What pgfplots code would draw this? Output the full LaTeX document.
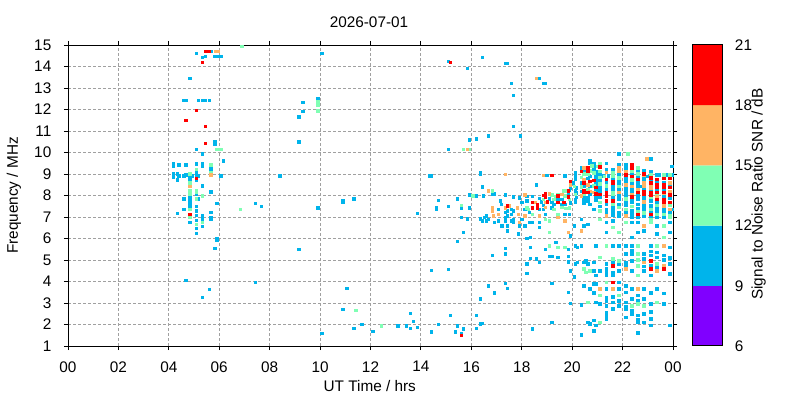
\documentclass[border=0pt]{standalone}
\usepackage{fontspec}
\setmainfont{Liberation Sans}
\usepackage{pgfplots}
\usepackage{pgfplotstable}
\pgfplotsset{compat=1.18}
\definecolor{cpur}{RGB}{128,0,255}
\definecolor{ccyan}{RGB}{0,180,235}
\definecolor{cgreen}{RGB}{128,255,180}
\definecolor{corange}{RGB}{255,180,100}
\definecolor{cred}{RGB}{255,0,0}
\definecolor{cgrid}{RGB}{160,160,160}
% k: 1 = 9-12 dB, 2 = 12-15 dB, 3 = 15-18 dB, 4 = 18-21 dB
\pgfplotstableread{
x y k
6.90 14.95 2
5.44 14.71 4
5.58 14.71 4
5.69 14.71 1
5.85 14.71 3
5.94 14.71 3
5.08 14.61 1
5.32 14.43 1
5.44 14.47 1
5.83 14.47 1
5.91 14.47 1
6.07 14.47 1
5.32 14.20 4
4.84 13.45 1
4.60 12.43 1
4.68 12.43 1
5.16 12.43 1
5.32 12.43 1
5.44 12.43 1
5.60 12.43 1
5.08 11.97 4
4.68 11.51 4
5.44 11.23 4
5.83 10.50 1
5.83 10.41 1
5.08 10.16 1
5.44 10.44 4
5.91 10.16 2
6.07 10.16 2
5.32 9.93 1
6.15 9.61 1
4.17 9.51 1
4.17 9.39 1
4.40 9.42 1
4.68 9.42 1
5.08 9.47 1
5.08 9.23 2
5.32 9.47 1
5.32 9.36 1
5.67 9.42 2
5.67 9.28 1
5.67 9.18 1
4.17 9.00 1
4.17 8.88 1
4.33 9.00 1
4.40 8.91 1
4.60 8.91 1
4.68 8.97 1
4.84 9.00 2
4.84 8.88 1
4.92 8.91 1
5.08 9.05 1
5.08 8.90 1
5.08 8.80 4
5.16 8.91 1
5.67 9.05 2
5.67 8.97 3
6.07 8.91 1
4.33 8.72 1
4.84 8.74 1
4.84 8.59 2
4.84 8.43 3
5.08 8.71 1
5.32 8.45 1
5.67 8.14 1
4.84 8.18 2
4.84 8.09 2
5.08 8.18 2
5.08 8.06 1
5.32 7.98 2
4.60 7.86 1
4.84 7.89 1
5.08 7.86 1
5.16 7.86 1
4.84 8.22 2
4.84 8.06 2
4.84 7.91 1
4.84 7.72 1
4.84 7.52 1
4.84 7.37 2
4.84 7.13 4
4.84 7.01 2
4.84 6.75 1
5.08 8.25 2
5.08 8.09 1
5.08 7.86 2
5.08 7.49 1
5.08 7.29 1
5.08 7.09 1
5.08 6.84 1
5.08 6.67 2
5.08 6.47 1
5.08 6.24 1
5.32 8.00 2
4.60 7.35 1
4.33 7.17 1
5.32 7.06 1
5.32 6.93 1
5.32 6.75 2
5.32 6.56 1
5.67 8.17 1
5.67 7.21 1
5.67 6.98 1
5.67 6.89 1
5.91 7.63 1
5.91 6.01 1
5.91 5.91 1
5.83 5.54 1
6.83 7.35 2
7.42 7.63 1
7.66 7.49 1
4.68 4.06 1
7.42 3.97 1
5.60 3.64 1
5.32 3.27 1
10.07 14.61 1
15.08 14.24 1
15.16 14.20 4
15.84 13.92 1
9.31 12.34 1
9.91 12.53 1
9.91 12.37 2
9.91 12.19 2
9.91 11.94 2
9.31 11.92 1
9.15 11.65 1
9.15 10.49 1
15.92 10.58 1
15.08 10.16 1
15.68 10.16 2
15.84 10.16 3
15.92 10.16 2
8.40 8.91 1
14.33 8.91 1
14.41 8.91 1
11.34 7.86 1
15.44 7.86 1
15.92 8.03 1
16.08 7.98 2
9.91 7.44 1
10.90 7.77 1
10.90 7.71 1
13.85 7.17 1
14.68 7.77 1
14.60 7.44 1
14.60 7.38 1
15.08 7.49 1
15.60 7.54 2
15.60 7.43 1
15.92 7.44 1
15.60 6.98 1
15.84 6.93 1
15.68 6.28 1
15.44 5.87 1
9.15 5.50 1
14.41 4.52 1
15.08 4.57 1
11.06 3.69 1
10.90 2.71 1
11.42 2.67 2
11.66 2.02 1
11.34 1.83 1
10.07 1.60 1
12.10 1.69 1
12.42 1.93 2
13.09 1.93 1
13.41 1.93 1
13.57 2.53 1
13.69 2.16 1
13.57 1.83 1
13.85 1.88 1
14.41 1.65 1
14.68 2.02 1
15.16 2.44 1
15.44 1.93 1
15.36 1.65 1
15.68 1.79 1
15.60 1.60 1
15.60 1.49 4
16.44 14.43 1
17.35 14.15 1
17.43 14.15 1
18.58 13.45 3
18.70 13.45 1
18.86 13.22 1
18.94 13.22 1
17.59 13.22 1
17.67 12.67 1
17.67 11.23 1
16.68 10.77 1
17.95 10.77 1
16.20 10.63 1
21.84 9.93 1
22.20 9.93 2
22.95 9.70 3
23.11 9.70 1
23.95 9.37 1
16.36 9.08 1
16.36 8.99 1
16.44 8.40 1
17.35 8.99 3
18.58 8.49 1
16.68 8.21 3
16.83 8.21 2
16.83 8.08 1
16.91 8.08 1
16.04 8.00 2
16.20 8.00 1
17.35 8.03 1
17.67 7.94 1
17.91 7.89 1
18.11 8.03 3
18.19 7.97 1
18.42 7.97 1
18.70 7.87 1
18.86 8.94 3
18.94 8.94 1
19.02 8.94 1
19.18 8.94 4
19.10 8.08 3
19.18 8.03 2
18.94 8.08 4
18.94 7.94 4
19.42 8.03 2
19.34 7.97 2
19.70 8.91 1
19.66 8.21 2
19.74 8.21 2
19.93 8.66 4
19.93 8.49 3
19.93 8.35 1
19.89 8.25 1
20.13 9.05 1
20.13 8.93 1
20.05 8.59 1
20.09 8.43 2
20.16 8.35 1
20.17 8.12 1
20.17 7.92 1
20.37 9.28 1
20.37 9.13 4
20.45 9.28 3
20.45 9.13 1
20.45 8.74 3
20.45 8.59 4
20.45 8.46 1
20.45 8.25 4
20.45 8.09 2
20.61 9.28 4
20.61 9.13 4
20.69 9.64 1
20.69 8.89 1
20.69 8.66 4
20.69 8.43 1
20.69 8.20 3
20.77 9.39 2
20.85 9.48 1
20.85 9.20 1
20.93 8.97 1
20.93 8.82 1
20.93 8.66 1
20.93 8.25 1
20.93 8.09 4
21.01 9.36 2
21.09 9.47 2
21.09 9.33 4
21.09 9.13 2
21.09 8.55 2
21.09 8.28 1
21.09 8.20 1
21.21 8.93 1
21.28 8.89 2
21.36 9.08 3
21.44 8.93 1
21.36 7.97 4
21.60 8.89 2
21.60 8.66 4
21.60 8.59 4
21.60 8.31 1
21.60 8.12 2
21.84 9.28 3
21.84 9.13 3
21.84 8.97 1
21.84 8.66 1
21.84 8.43 2
21.84 7.97 1
22.12 9.28 1
22.12 9.13 3
22.12 8.97 4
22.12 8.82 1
22.12 8.66 1
22.12 8.51 3
22.12 8.12 1
22.12 7.97 1
22.36 9.28 4
22.36 9.13 2
22.36 8.89 4
22.36 8.74 2
22.36 8.43 3
22.36 8.15 1
22.60 9.28 2
22.60 9.13 1
22.60 8.89 1
22.60 8.43 1
22.68 8.43 1
22.83 9.16 1
22.83 8.97 3
22.83 8.82 1
22.83 8.59 3
22.83 8.43 3
22.83 8.20 4
22.95 8.89 1
23.11 8.97 2
23.11 8.59 4
23.11 8.35 3
23.11 8.04 4
23.35 8.38 4
23.35 8.04 2
23.43 8.97 1
23.63 8.97 2
23.63 8.38 4
23.63 8.12 3
23.79 8.97 1
23.87 8.97 2
23.87 8.38 4
23.87 8.20 3
23.87 8.04 4
23.95 8.97 1
16.48 7.98 1
16.36 6.93 1
16.44 6.83 1
16.52 6.98 1
16.60 7.06 1
16.60 6.83 1
16.68 6.90 1
16.83 7.44 3
16.83 7.29 3
16.87 7.06 3
16.91 6.75 1
17.07 7.37 1
17.07 7.13 3
17.07 6.83 1
17.15 7.75 1
17.19 7.60 1
17.21 6.59 1
17.35 7.44 3
17.35 7.21 1
17.35 6.98 1
17.35 6.83 1
17.43 7.52 4
17.43 7.29 1
17.43 7.06 1
17.43 6.59 1
17.43 6.36 1
17.51 7.52 3
17.59 7.37 1
17.59 7.13 1
17.59 6.83 1
17.67 7.29 1
17.67 6.90 1
17.67 6.75 1
17.83 7.44 3
17.87 7.13 3
17.91 6.75 3
17.87 6.21 1
17.91 6.59 1
18.00 7.68 1
18.00 6.90 1
18.11 7.37 1
18.11 7.06 3
18.11 6.59 1
18.19 7.75 1
18.19 7.44 2
18.26 7.37 2
18.30 7.21 1
18.30 6.75 1
18.42 7.68 4
18.42 7.44 4
18.42 7.13 2
18.42 6.75 1
18.54 7.68 3
18.62 7.60 4
18.62 7.44 4
18.70 7.37 1
18.70 7.06 3
18.70 6.75 1
18.70 6.52 1
18.86 8.02 4
18.86 7.83 2
18.94 7.68 3
18.86 7.37 1
18.94 7.13 1
18.94 6.90 2
19.10 6.83 2
19.10 6.28 2
19.18 7.68 1
19.18 7.44 1
19.26 7.83 2
19.26 7.37 2
19.42 7.98 4
19.42 7.68 4
19.42 7.13 2
19.42 6.98 3
19.58 8.06 3
19.58 7.83 1
19.66 7.68 4
19.70 7.98 2
19.70 7.60 1
19.70 7.13 1
19.70 6.83 3
19.85 8.22 4
19.85 8.06 1
19.89 7.83 2
19.89 7.44 2
19.89 7.13 1
19.85 6.28 3
19.93 6.13 1
20.13 8.22 1
20.13 7.83 1
20.09 6.59 1
20.37 7.98 3
20.45 8.14 4
20.45 7.83 1
20.37 6.90 1
20.45 6.59 1
20.37 6.36 3
20.61 8.14 4
20.61 7.91 1
20.69 7.60 1
20.61 6.67 1
20.85 8.14 3
20.93 7.98 1
20.85 7.37 1
21.09 7.91 1
21.09 7.68 2
21.09 7.29 2
21.09 6.90 2
21.36 7.98 4
21.36 7.75 4
21.36 7.37 1
21.36 7.06 3
21.36 6.75 1
21.36 6.28 1
21.60 8.06 2
21.60 7.75 4
21.60 7.52 1
21.60 7.29 1
21.60 6.83 1
21.60 6.52 2
21.84 7.98 1
21.84 7.60 1
21.84 7.21 1
21.84 6.28 2
22.12 7.98 1
22.12 7.68 1
22.12 7.37 2
22.12 7.06 3
22.12 6.75 2
22.36 8.06 3
22.36 7.68 1
22.36 7.13 1
22.36 6.75 1
22.36 6.05 1
22.60 7.98 1
22.60 7.60 1
22.60 7.13 4
22.60 6.75 1
22.60 6.28 1
22.83 8.14 4
22.83 7.83 1
22.83 7.52 1
22.83 7.06 1
22.83 6.59 3
22.83 6.36 1
23.11 8.14 4
23.11 7.91 2
23.11 7.52 1
23.11 7.13 4
23.11 6.90 2
23.11 6.75 2
23.35 8.14 4
23.35 7.83 4
23.35 7.44 1
23.35 7.13 2
23.35 6.59 1
23.35 6.21 1
23.63 8.14 4
23.63 7.83 4
23.63 7.52 3
23.63 7.13 2
23.63 6.59 2
23.63 6.05 2
23.87 8.14 1
23.87 7.68 4
23.87 7.37 3
23.87 7.06 2
23.87 6.75 1
23.87 6.28 1
23.95 7.37 1
18.19 6.01 1
18.34 6.05 1
17.35 5.54 1
17.35 5.28 1
16.83 5.23 1
18.34 5.59 1
18.34 5.08 1
18.19 4.82 1
18.19 4.38 1
18.58 5.05 1
18.70 4.89 1
18.94 5.51 1
19.10 5.67 2
19.34 5.82 1
19.42 5.59 2
19.10 5.17 1
19.18 5.17 1
19.42 5.13 1
19.70 5.59 2
19.85 5.51 1
19.85 5.17 1
19.85 4.92 1
19.93 4.51 1
20.13 5.67 1
20.21 5.59 1
20.13 4.82 1
20.21 4.89 1
20.09 4.23 1
20.37 5.67 1
20.45 4.89 1
20.53 4.97 1
20.61 4.82 1
20.45 4.58 2
20.69 4.51 2
20.53 4.43 2
20.93 5.67 1
20.85 4.89 1
20.85 4.51 1
21.09 5.13 2
21.09 4.51 1
21.36 5.67 2
21.36 4.82 1
21.36 4.43 1
21.60 5.67 1
21.60 5.05 2
21.60 4.74 4
21.60 4.43 1
21.60 4.28 1
21.84 5.67 1
21.84 4.97 2
21.84 4.51 1
22.12 5.67 1
22.12 5.28 1
22.12 4.58 3
22.36 5.67 1
22.36 5.28 1
22.36 4.97 1
22.60 5.67 2
22.60 5.28 2
22.60 4.74 2
22.60 4.28 2
22.83 5.28 1
22.83 4.89 3
22.83 4.51 1
23.11 5.67 1
23.11 5.21 1
23.11 4.97 4
23.11 4.58 4
23.11 4.28 1
23.35 5.67 2
23.35 5.13 1
23.35 4.82 2
23.35 4.51 3
23.63 5.67 3
23.63 5.21 1
23.63 4.74 3
23.63 4.58 4
23.87 5.59 1
23.87 4.82 1
23.87 4.35 1
16.68 3.81 1
16.91 3.47 1
17.35 3.92 1
17.43 3.69 1
16.36 3.19 1
19.18 3.92 1
19.85 3.50 1
19.93 2.99 1
20.45 3.81 1
20.37 2.91 1
20.61 3.04 2
20.69 3.66 1
20.85 3.89 1
20.93 3.89 1
20.85 3.47 1
20.93 3.04 1
21.09 3.66 3
21.09 3.35 2
21.09 2.96 1
21.36 3.97 2
21.36 3.66 1
21.36 3.27 1
21.36 2.88 1
21.36 2.57 1
21.36 2.27 1
21.60 3.97 4
21.60 3.66 3
21.60 3.04 1
21.60 2.73 1
21.84 3.97 1
21.84 3.66 1
21.84 3.35 2
21.84 2.88 1
22.12 3.81 1
22.12 3.04 1
22.12 2.73 1
22.12 2.34 1
22.36 3.66 1
22.36 3.19 1
22.36 2.88 2
22.36 2.50 1
22.60 3.66 3
22.60 3.35 1
22.60 2.96 2
22.60 2.42 1
22.60 2.11 1
22.60 1.62 1
22.83 3.66 1
22.83 3.19 1
22.83 2.88 2
22.83 2.11 1
23.11 3.47 1
23.11 2.96 1
23.11 2.27 1
23.11 1.96 1
23.35 3.66 1
23.35 3.04 2
23.63 3.46 1
23.63 2.96 1
23.87 1.96 1
16.20 2.44 1
16.20 1.83 1
16.36 2.03 1
16.44 2.06 1
18.42 1.79 1
19.18 2.11 1
20.61 2.11 1
20.69 2.03 1
20.85 2.19 1
20.93 1.96 1
20.85 1.72 1
20.37 1.52 1
21.09 2.11 2
20.13 8.75 1
20.13 8.05 2
20.13 7.70 1
20.37 8.85 2
20.37 8.60 1
20.37 8.40 2
20.37 8.20 1
20.45 9.00 2
20.45 7.95 1
20.45 7.65 1
20.61 9.00 2
20.61 8.80 1
20.61 8.50 3
20.61 8.30 2
20.61 7.75 1
20.69 9.50 1
20.69 9.15 2
20.69 8.05 1
20.85 9.35 1
20.85 9.05 2
20.85 8.70 4
20.85 8.45 2
20.93 9.10 1
20.93 8.50 1
20.93 8.38 4
20.93 7.80 1
21.09 9.00 1
21.09 8.85 2
21.09 8.70 1
21.09 8.42 1
21.09 8.05 4
21.09 7.50 1
21.36 9.50 1
21.36 9.20 1
21.36 8.75 4
21.36 8.60 1
21.36 8.45 2
21.36 8.30 1
21.36 8.15 4
21.36 7.60 1
21.36 7.20 1
21.60 9.20 1
21.60 9.05 2
21.60 8.80 1
21.60 8.45 1
21.60 7.90 1
21.60 7.62 2
21.60 7.40 1
21.60 7.10 1
21.84 9.45 1
21.84 8.82 2
21.84 8.55 1
21.84 8.30 1
21.84 8.15 3
21.84 7.85 1
21.84 7.45 2
21.84 7.05 1
22.12 9.45 1
22.12 8.40 1
22.12 8.25 1
22.12 7.85 2
22.12 7.55 1
22.12 7.25 1
22.36 9.45 4
22.36 9.00 1
22.36 8.60 1
22.36 8.30 1
22.36 7.95 4
22.36 7.85 1
22.36 7.50 2
22.36 7.30 1
22.36 7.00 1
22.60 9.00 2
22.60 8.75 4
22.60 8.60 1
22.60 8.30 3
22.60 8.15 4
22.60 7.85 1
22.60 7.40 1
22.60 7.25 2
22.60 7.00 1
22.83 9.00 4
22.83 8.70 1
22.83 8.30 1
22.83 8.05 4
22.83 7.95 1
22.83 7.70 3
22.83 7.35 1
22.83 7.20 2
23.11 9.10 1
23.11 8.82 4
23.11 8.70 1
23.11 8.45 3
23.11 8.25 1
23.11 7.75 1
23.11 7.35 2
23.11 7.25 1
23.11 7.00 1
23.35 8.97 1
23.35 8.75 4
23.35 8.60 1
23.35 8.50 4
23.35 8.25 1
23.35 7.95 3
23.35 7.70 1
23.35 7.55 2
23.35 7.30 1
23.35 7.00 1
23.63 8.80 4
23.63 8.60 1
23.63 8.50 4
23.63 8.25 1
23.63 7.95 1
23.63 7.70 4
23.63 7.40 1
23.63 7.25 1
23.63 7.00 1
23.87 8.80 4
23.87 8.60 3
23.87 8.50 1
23.87 7.90 1
23.87 7.55 2
23.87 7.25 1
23.87 7.00 2
19.58 7.60 1
19.58 7.45 2
19.42 7.83 1
19.26 7.60 1
19.10 7.85 1
19.02 7.70 4
18.86 7.55 1
18.94 7.45 3
18.78 7.70 1
19.74 7.40 2
19.93 7.65 1
19.85 7.95 4
21.36 4.60 1
21.36 4.30 1
22.12 4.90 1
22.12 4.75 1
22.36 4.50 1
22.60 5.00 2
22.83 5.05 1
23.11 5.40 1
23.35 5.35 1
23.63 5.00 1
23.87 5.10 1
20.93 4.30 1
21.84 4.80 1
22.36 5.45 1
23.11 4.75 1
22.83 4.70 1
23.35 4.65 1
21.60 4.90 1
21.36 3.10 1
21.36 2.40 1
22.12 3.50 1
22.12 2.85 1
22.36 2.65 1
22.60 2.25 1
22.83 2.50 1
23.11 2.60 1
21.60 3.30 1
21.84 3.10 1
22.60 3.10 1
}\snrdata
\begin{document}
\begin{tikzpicture}
\path[use as bounding box] (0,0) rectangle (600pt,300pt);
\begin{axis}[
  at={(51pt,40.5pt)}, anchor=south west,
  scale only axis, width=453.75pt, height=225.75pt,
  xmin=0, xmax=24, ymin=1, ymax=15,
  xtick={0,2,...,24},
  xticklabels={00,02,04,06,08,10,12,14,16,18,20,22,00},
  ytick={1,2,...,15},
  tick align=outside, major tick length=3pt,
  every tick/.style={black, line width=0.75pt},
  axis line style={black, line width=0.75pt},
  grid=major,
  major grid style={cgrid, line width=0.75pt, dash pattern=on 2.25pt off 1.5pt},
  tick label style={font=\fontsize{11.5}{13}\selectfont},
  /pgf/number format/assume math mode=true,
  xticklabel style={yshift=-5pt},
  yticklabel style={xshift=-6pt},
  clip=true,
]
\addplot[only marks, mark=square*, mark size=0.95pt, color=ccyan, line width=0.4pt,
  restrict expr to domain={\thisrow{k}}{0.5:1.5}] table[x=x, y=y] {\snrdata};
\addplot[only marks, mark=square*, mark size=0.95pt, color=cgreen, line width=0.4pt,
  restrict expr to domain={\thisrow{k}}{1.5:2.5}] table[x=x, y=y] {\snrdata};
\addplot[only marks, mark=square*, mark size=0.95pt, color=corange, line width=0.4pt,
  restrict expr to domain={\thisrow{k}}{2.5:3.5}] table[x=x, y=y] {\snrdata};
\addplot[only marks, mark=square*, mark size=0.95pt, color=cred, line width=0.4pt,
  restrict expr to domain={\thisrow{k}}{3.5:4.5}] table[x=x, y=y] {\snrdata};
\end{axis}
\begin{axis}[
  at={(519.2pt,40.5pt)}, anchor=south west,
  scale only axis, width=22.5pt, height=225.75pt,
  xmin=0, xmax=1, ymin=6, ymax=21,
  xtick=\empty, ytick={6,9,...,21},
  yticklabel pos=right, major tick length=0pt,
  axis line style={black, line width=0.75pt},
  tick label style={font=\fontsize{11.5}{13}\selectfont},
  /pgf/number format/assume math mode=true,
  yticklabel style={xshift=6pt},
  axis on top,
]
\addplot[fill=cpur, draw=none] coordinates {(0,6) (1,6) (1,9) (0,9) (0,6)};
\addplot[fill=ccyan, draw=none] coordinates {(0,9) (1,9) (1,12) (0,12) (0,9)};
\addplot[fill=cgreen, draw=none] coordinates {(0,12) (1,12) (1,15) (0,15) (0,12)};
\addplot[fill=corange, draw=none] coordinates {(0,15) (1,15) (1,18) (0,18) (0,15)};
\addplot[fill=cred, draw=none] coordinates {(0,18) (1,18) (1,21) (0,21) (0,18)};
\end{axis}
\node[font=\fontsize{11.5}{13}\selectfont, anchor=base] at (276.75pt,279.5pt) {2026-07-01};
\node[font=\fontsize{11.5}{13}\selectfont, anchor=base] at (277.3pt,6pt) {UT Time / hrs};
\node[font=\fontsize{11.5}{13}\selectfont, rotate=90] at (10.5pt,153.4pt) {Frequency / MHz};
\node[font=\fontsize{11.5}{13}\selectfont, rotate=90] at (569pt,154.5pt) {Signal to Noise Ratio SNR / dB};
\end{tikzpicture}
\end{document}
